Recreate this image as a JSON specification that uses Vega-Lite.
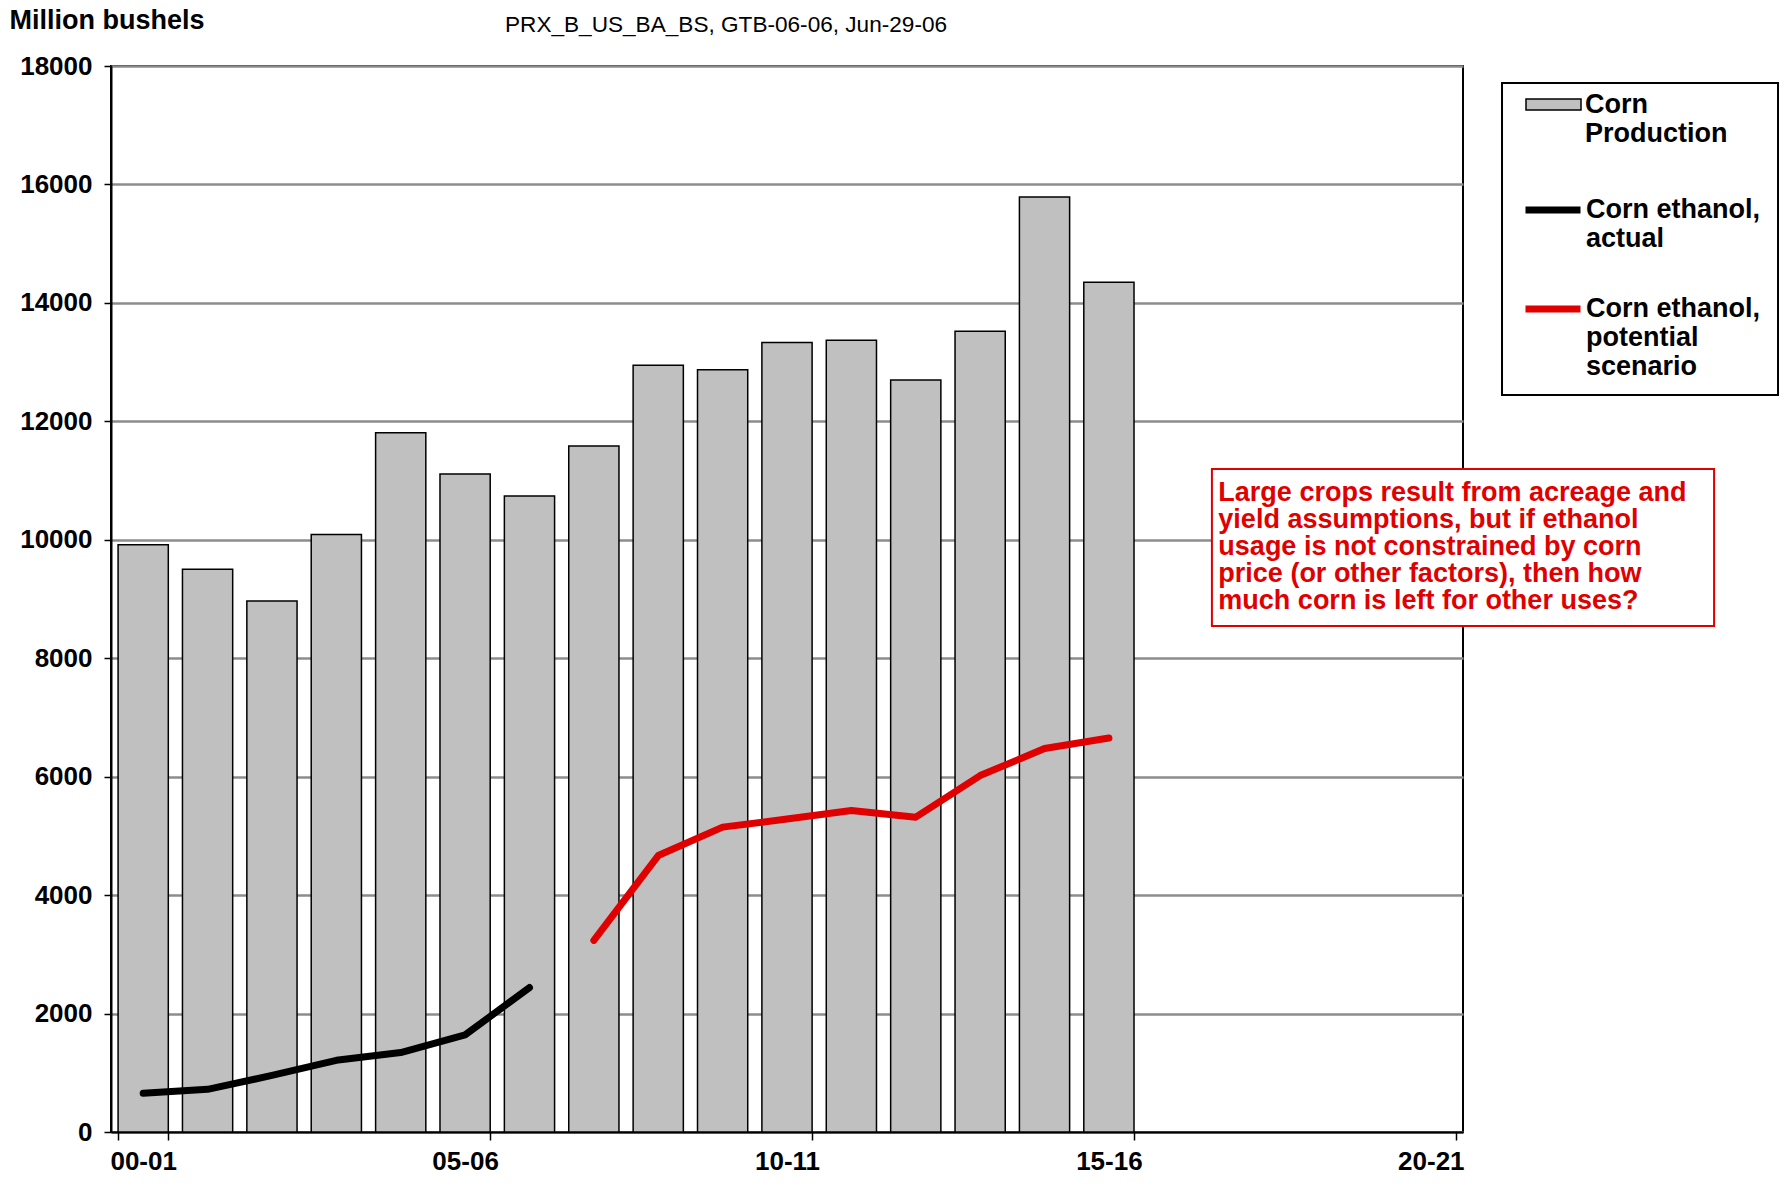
{
  "$schema": "https://vega.github.io/schema/vega-lite/v6.json",
  "width": 1352,
  "height": 1066,
  "autosize": {"type": "none"},
  "padding": {"left": 111, "top": 66, "right": 321, "bottom": 68},
  "background": "white",
  "config": {
    "font": "Liberation Sans",
    "view": {"stroke": "black", "strokeWidth": 2}
  },
  "title": {
    "text": "PRX_B_US_BA_BS, GTB-06-06, Jun-29-06",
    "anchor": "start",
    "frame": "group",
    "dx": 394,
    "dy": 35,
    "fontSize": 22.6,
    "fontWeight": "normal",
    "font": "Liberation Sans",
    "color": "black"
  },
  "datasets": {
    "production": [
      {"season": "00-01", "value": 9915, "series": "Corn Production"},
      {"season": "01-02", "value": 9503, "series": "Corn Production"},
      {"season": "02-03", "value": 8967, "series": "Corn Production"},
      {"season": "03-04", "value": 10089, "series": "Corn Production"},
      {"season": "04-05", "value": 11807, "series": "Corn Production"},
      {"season": "05-06", "value": 11112, "series": "Corn Production"},
      {"season": "06-07", "value": 10738, "series": "Corn Production"},
      {"season": "07-08", "value": 11583, "series": "Corn Production"},
      {"season": "08-09", "value": 12947, "series": "Corn Production"},
      {"season": "09-10", "value": 12870, "series": "Corn Production"},
      {"season": "10-11", "value": 13331, "series": "Corn Production"},
      {"season": "11-12", "value": 13369, "series": "Corn Production"},
      {"season": "12-13", "value": 12697, "series": "Corn Production"},
      {"season": "13-14", "value": 13523, "series": "Corn Production"},
      {"season": "14-15", "value": 15790, "series": "Corn Production"},
      {"season": "15-16", "value": 14349, "series": "Corn Production"}
    ],
    "ethanol": [
      {"season": "00-01", "value": 654, "series": "Corn ethanol, actual"},
      {"season": "01-02", "value": 721, "series": "Corn ethanol, actual"},
      {"season": "02-03", "value": 955, "series": "Corn ethanol, actual"},
      {"season": "03-04", "value": 1211, "series": "Corn ethanol, actual"},
      {"season": "04-05", "value": 1341, "series": "Corn ethanol, actual"},
      {"season": "05-06", "value": 1639, "series": "Corn ethanol, actual"},
      {"season": "06-07", "value": 2439, "series": "Corn ethanol, actual"},
      {"season": "07-08", "value": 3235, "series": "Corn ethanol, potential scenario"},
      {"season": "08-09", "value": 4668, "series": "Corn ethanol, potential scenario"},
      {"season": "09-10", "value": 5148, "series": "Corn ethanol, potential scenario"},
      {"season": "10-11", "value": 5285, "series": "Corn ethanol, potential scenario"},
      {"season": "11-12", "value": 5430, "series": "Corn ethanol, potential scenario"},
      {"season": "12-13", "value": 5316, "series": "Corn ethanol, potential scenario"},
      {"season": "13-14", "value": 6018, "series": "Corn ethanol, potential scenario"},
      {"season": "14-15", "value": 6475, "series": "Corn ethanol, potential scenario"},
      {"season": "15-16", "value": 6652, "series": "Corn ethanol, potential scenario"}
    ],
    "note": [
      {"x1": 17.10, "x2": 24.9, "top": 11196, "bottom": 8544, "tx": 17.2, "ty": 10660,
       "text": "Large crops result from acreage and\nyield assumptions, but if ethanol\nusage is not constrained by corn\nprice (or other factors), then how\nmuch corn is left for other uses?"}
    ],
    "legendframe": [
      {"x1": 21.606, "x2": 25.893, "top": 17713, "bottom": 12445}
    ]
  },
  "resolve": {"scale": {"x": "independent"}},
  "layer": [
    {
      "layer": [
        {
          "data": {"name": "production"},
          "mark": {"type": "bar", "stroke": "black", "strokeWidth": 1.5},
          "encoding": {
            "x": {
              "field": "season",
              "type": "nominal",
              "sort": null,
              "scale": {
                "domain": ["00-01","01-02","02-03","03-04","04-05","05-06","06-07","07-08","08-09","09-10","10-11","11-12","12-13","13-14","14-15","15-16","16-17","17-18","18-19","19-20","20-21"],
                "paddingInner": 0.22,
                "paddingOuter": 0.11
              },
              "axis": {
                "title": null,
                "values": ["00-01","05-06","10-11","15-16","20-21"],
                "tickBand": "extent",
                "labelAngle": 0,
                "labelFont": "Liberation Sans",
                "labelFontSize": 26,
                "labelFontWeight": "bold",
                "labelColor": "black",
                "labelPadding": 8,
                "tickSize": 8,
                "tickColor": "black",
                "tickWidth": 1.5,
                "domainColor": "black",
                "domainWidth": 2,
                "grid": false
              }
            },
            "y": {
              "field": "value",
              "type": "quantitative",
              "scale": {"domain": [0, 18000], "nice": false},
              "axis": {
                "values": [0,2000,4000,6000,8000,10000,12000,14000,16000,18000],
                "format": "d",
                "title": "Million bushels",
                "titleAngle": 0,
                "titleAlign": "left",
                "titleBaseline": "alphabetic",
                "titleX": -102,
                "titleY": -38,
                "titleFont": "Liberation Sans",
                "titleFontSize": 27,
                "titleFontWeight": "bold",
                "titleColor": "black",
                "labelFont": "Liberation Sans",
                "labelFontSize": 26,
                "labelFontWeight": "bold",
                "labelColor": "black",
                "labelPadding": 12,
                "tickSize": 7,
                "tickColor": "black",
                "tickWidth": 1.5,
                "domainColor": "black",
                "domainWidth": 2,
                "grid": true,
                "gridColor": "#8c8c8c",
                "gridWidth": 2.5
              }
            },
            "fill": {
              "field": "series",
              "type": "nominal",
              "scale": {"domain": ["Corn Production"], "range": ["#c0c0c0"]},
              "legend": {
                "orient": "none",
                "legendX": 1414,
                "legendY": -3,
                "title": null,
                "padding": 0,
                "symbolOffset": 0,
                "symbolType": "M-1,0.273H1V0.673H-1Z",
                "symbolSize": 3025,
                "symbolStrokeColor": "black",
                "symbolStrokeWidth": 1.5,
                "labelFont": "Liberation Sans",
                "labelFontSize": 27,
                "labelFontWeight": "bold",
                "labelColor": "black",
                "labelLimit": 400,
                "labelOffset": 3,
                "labelBaseline": "top",
                "labelExpr": "['Corn', 'Production']"
              }
            }
          }
        },
        {
          "data": {"name": "ethanol"},
          "mark": {"type": "line", "strokeWidth": 7, "strokeCap": "round", "strokeJoin": "round"},
          "encoding": {
            "x": {"field": "season", "type": "nominal", "sort": null},
            "y": {"field": "value", "type": "quantitative"},
            "stroke": {
              "field": "series",
              "type": "nominal",
              "scale": {
                "domain": ["Corn ethanol, actual", "Corn ethanol, potential scenario"],
                "range": ["#000000", "#e00000"]
              },
              "legend": {
                "orient": "none",
                "legendX": 1411,
                "legendY": 100,
                "title": null,
                "padding": 0,
                "symbolOffset": 0,
                "symbolType": "M-1,0.473H1",
                "symbolSize": 3025,
                "symbolStrokeWidth": 7,
                "labelFont": "Liberation Sans",
                "labelFontSize": 27,
                "labelFontWeight": "bold",
                "labelColor": "black",
                "labelLimit": 400,
                "labelOffset": 2,
                "labelBaseline": "top",
                "rowPadding": 13,
                "labelExpr": "datum.label == 'Corn ethanol, actual' ? ['Corn ethanol,', 'actual'] : ['Corn ethanol,', 'potential', 'scenario']"
              }
            }
          }
        }
      ]
    },
    {
      "layer": [
        {
          "data": {"name": "note"},
          "mark": {"type": "rect", "fill": "white", "stroke": "#e00000", "strokeWidth": 2, "clip": false},
          "encoding": {
            "x": {"field": "x1", "type": "quantitative", "scale": {"domain": [0, 21], "nice": false, "zero": false}, "axis": null},
            "x2": {"field": "x2"},
            "y": {"field": "top", "type": "quantitative", "scale": {"domain": [0, 18000], "nice": false}},
            "y2": {"field": "bottom"}
          }
        },
        {
          "data": {"name": "note"},
          "mark": {"type": "text", "align": "left", "baseline": "alphabetic", "lineBreak": "\n", "lineHeight": 27, "fontSize": 27, "fontWeight": "bold", "font": "Liberation Sans", "color": "#e00000"},
          "encoding": {
            "x": {"field": "tx", "type": "quantitative", "scale": {"domain": [0, 21], "nice": false, "zero": false}, "axis": null},
            "y": {"field": "ty", "type": "quantitative"},
            "text": {"field": "text"}
          }
        },
        {
          "data": {"name": "legendframe"},
          "mark": {"type": "rect", "fill": "white", "fillOpacity": 0, "stroke": "black", "strokeWidth": 2, "clip": false},
          "encoding": {
            "x": {"field": "x1", "type": "quantitative", "scale": {"domain": [0, 21], "nice": false, "zero": false}, "axis": null},
            "x2": {"field": "x2"},
            "y": {"field": "top", "type": "quantitative", "scale": {"domain": [0, 18000], "nice": false}},
            "y2": {"field": "bottom"}
          }
        }
      ]
    }
  ]
}
